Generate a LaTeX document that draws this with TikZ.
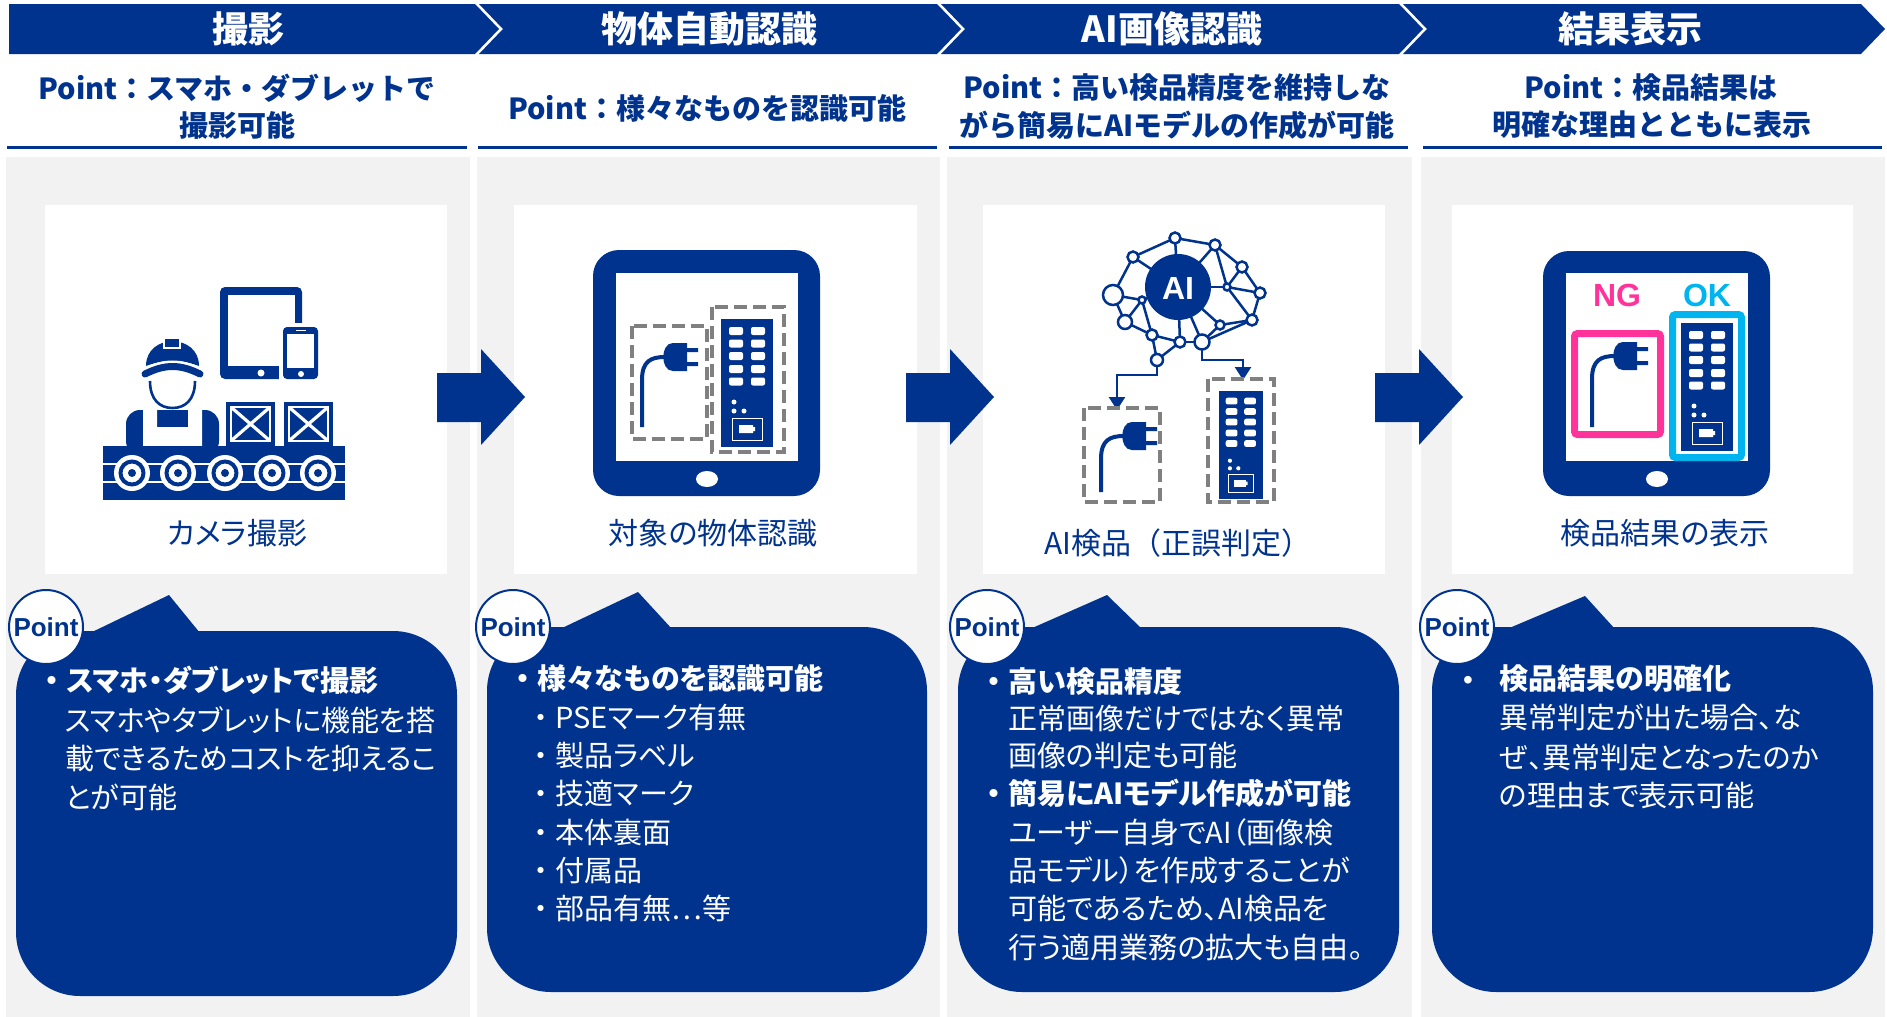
\documentclass[tikz,border=0pt]{standalone}
\usepackage{fontspec}
\setmainfont{Liberation Sans}
\newfontfamily\jp{Noto Sans CJK JP}
\newfontfamily\jpp{Noto Sans CJK JP}[RawFeature=+palt]
\usetikzlibrary{arrows.meta}
\definecolor{navy}{RGB}{0,51,141}
\definecolor{panel}{RGB}{242,242,242}
\definecolor{dashgrey}{RGB}{128,128,128}
\definecolor{ngpink}{RGB}{255,51,153}
\definecolor{okcyan}{RGB}{0,180,240}
\tikzset{
  headtxt/.style={text=white, font=\jp\bfseries\fontsize{18pt}{20pt}\selectfont, inner sep=0pt},
  pointtxt/.style={text=navy, font=\jp\bfseries\fontsize{14.5pt}{17pt}\selectfont, inner sep=0pt},
  hrule/.style={draw=navy, line width=1.5pt},
  lbl/.style={text=navy, font=\jpp\fontsize{15pt}{18pt}\selectfont, inner sep=0pt},
  badge/.style={circle, draw=navy, line width=1pt, fill=white, minimum size=37pt, inner sep=0pt,
    font=\bfseries\fontsize{13pt}{15pt}\selectfont, text=navy},
  btxt/.style={text=white, font=\jpp\fontsize{14.5pt}{17pt}\selectfont, inner sep=0pt, anchor=base west},
  bhead/.style={btxt, font=\jpp\bfseries\fontsize{14.5pt}{17pt}\selectfont},
  dashbox/.style={draw=dashgrey, line width=2pt, dash pattern=on 6.5pt off 3pt},
  netedge/.style={draw=navy, line width=1.25pt},
  netnode/.style={draw=navy, line width=1.25pt, fill=white},
  feed/.style={draw=navy, line width=1.25pt, -{Triangle[width=8pt,length=6.5pt]}},
}
% full-width bullet in front of a bubble line
\newcommand{\bul}{{\jp ・}}
% switching-hub device drawn in a local frame 52 x 128
\newcommand{\devicepic}[3]{%
  \begin{scope}[shift={(#1,#2)}, scale=#3]
    \fill[navy] (0,0) rectangle (52,128);
    \foreach \ky in {12,24.5,37,50,62.5} {
      \fill[white, rounded corners=1pt] (8,\ky-4) rectangle (22,\ky+4);
      \fill[white, rounded corners=1pt] (30,\ky-4) rectangle (44,\ky+4);
    }
    \fill[white] (13,83) circle (2.5) (13,92) circle (2.5) (23,92) circle (2.5);
    \draw[white, line width=0.5pt] (11,99) rectangle (41,121);
    \fill[white] (18,106) rectangle (32,114) (32,108) rectangle (34,112);
  \end{scope}}
% power plug: #1,#2 = left centre of the plug head, #3 = lower end of the cord
\newcommand{\plugicon}[3]{%
  \draw[navy, line width=2pt] (#1-21,#3) -- (#1-21,#2+23) .. controls (#1-21,#2+4) and (#1-12,#2) .. (#1+2,#2);
  \fill[navy] (#1+24,#2-14) -- (#1+10,#2-14) .. controls (#1-3,#2-14) and (#1-3,#2+14) .. (#1+10,#2+14) -- (#1+24,#2+14) -- cycle;
  \fill[navy] (#1+24,#2-9) rectangle (#1+35,#2-5) (#1+24,#2+5) rectangle (#1+35,#2+9);}
\begin{document}
\begin{tikzpicture}[x=0.5pt,y=-0.5pt]
\useasboundingbox (0,0) rectangle (1887,1017);
\fill[white] (0,0) rectangle (1887,1017);
% ---------- step banner ----------
\fill[navy] (9,4) -- (475,4) -- (499,29) -- (475,54) -- (9,54) -- cycle;
\fill[navy] (479,4) -- (937,4) -- (961,29) -- (937,54) -- (479,54) -- (503,29) -- cycle;
\fill[navy] (941,4) -- (1399,4) -- (1423,29) -- (1399,54) -- (941,54) -- (965,29) -- cycle;
\fill[navy] (1403,4) -- (1861,4) -- (1885,29) -- (1861,54) -- (1403,54) -- (1427,29) -- cycle;
\node[headtxt] (h1) at (248,29) {撮影};
\node[headtxt] (h2) at (709,29) {物体自動認識};
\node[headtxt] (h3) at (1172,29) {AI画像認識};
\node[headtxt] (h4) at (1630,29) {結果表示};
% ---------- key points ----------
\node[pointtxt] (q1a) at (237,88) {Point：スマホ・ダブレットで};
\node[pointtxt] (q1b) at (237,125) {撮影可能};
\node[pointtxt] (q2) at (707,108) {Point：様々なものを認識可能};
\node[pointtxt] (q3a) at (1177,88) {Point：高い検品精度を維持しな};
\node[pointtxt] (q3b) at (1177,125) {がら簡易にAIモデルの作成が可能};
\node[pointtxt] (q4a) at (1651,88) {Point：検品結果は};
\node[pointtxt] (q4b) at (1652,125) {明確な理由とともに表示};
\draw[hrule] (7,147) -- (467,147);
\draw[hrule] (478,147) -- (937,147);
\draw[hrule] (949,147) -- (1408,147);
\draw[hrule] (1423,147) -- (1882,147);
% ---------- columns and cards ----------
\fill[panel] (6,157) rectangle (470,1017);
\fill[panel] (477,157) rectangle (940,1017);
\fill[panel] (947,157) rectangle (1412,1017);
\fill[panel] (1421,157) rectangle (1885,1017);
\fill[white] (45,205) rectangle (447,574);
\fill[white] (514,205) rectangle (917,574);
\fill[white] (983,205) rectangle (1385,574);
\fill[white] (1452,205) rectangle (1853,574);
\node[lbl] (l1) at (237,533) {カメラ撮影};
\node[lbl] (l2) at (713,533) {対象の物体認識};
\node[lbl, font=\jp\fontsize{15pt}{18pt}\selectfont] (l3) at (1178,543) {AI検品（正誤判定）};
\node[lbl] (l4) at (1665,533) {検品結果の表示};
% ---------- flow arrows ----------
\foreach \dx in {0,469,938}
  \fill[navy] (437+\dx,373) -- (481+\dx,373) -- (481+\dx,349) -- (525+\dx,397) -- (481+\dx,445) -- (481+\dx,422) -- (437+\dx,422) -- cycle;
% ---------- icon 1: worker, devices, conveyor ----------
\fill[navy, rounded corners=2.5pt] (220,287) rectangle (302,379);
\fill[white] (228,295) rectangle (295,366);
\fill[white] (261,373) circle (3.5);
\fill[white, rounded corners=2pt] (279,323) rectangle (322,383);
\fill[navy, rounded corners=2pt] (283,327) rectangle (318,379);
\fill[white] (287,334) rectangle (314,368);
\draw[white, line width=0.8pt] (296,330.5) -- (306,330.5);
\fill[white] (301,374) circle (3);
\fill[navy, rounded corners=7pt] (126,455) -- (126,410) -- (219,410) -- (219,455) -- cycle;
\fill[white] (143,410) -- (157,410) -- (157,427) -- (188,427) -- (188,410) -- (202,410) -- (202,447) -- (143,447) -- cycle;
\fill[navy] (146,366) .. controls (146,333) and (199,333) .. (199,366) .. controls (180,359) and (165,359) .. (146,366) -- cycle;
\fill[navy, draw=white, line width=0.75pt] (164,338) rectangle (180,348);
\draw[white, line width=6pt, line cap=round] (145,374) .. controls (165,364) and (180,364) .. (200,374);
\draw[navy, line width=3.5pt, line cap=round] (145,374) .. controls (165,364) and (180,364) .. (200,374);
\draw[navy, line width=1.3pt] (150,381) .. controls (150,400) and (160,408) .. (172.5,408) .. controls (185,408) and (195,400) .. (195,381);
\foreach \bx in {226,284} {
  \fill[navy] (\bx,402) rectangle (\bx+49,446);
  \draw[white, line width=0.9pt] (\bx+5,407) rectangle (\bx+44,441);
  \draw[white, line width=1.6pt] (\bx+6,408) -- (\bx+43,440) (\bx+43,408) -- (\bx+6,440);
}
\fill[navy] (103,446) rectangle (345,500);
\draw[white, line width=1.2pt] (103,464) -- (345,464) (103,482) -- (345,482);
\foreach \wx in {132,178,225,272,318} {
  \fill[white] (\wx,473) circle (18);
  \draw[navy, line width=2pt] (\wx,473) circle (11.5);
  \fill[navy] (\wx,473) circle (4);
}
% ---------- icon 2: tablet recognising objects ----------
\fill[navy, rounded corners=13pt] (593,250) rectangle (820,496);
\fill[white] (616,273) rectangle (798,461);
\fill[white] (707,479) ellipse (11 and 8);
\draw[dashbox] (632,326) rectangle (707,439);
\draw[dashbox] (712,307) rectangle (784,452);
\plugicon{663}{357}{427}
\devicepic{721}{319}{1}
% ---------- icon 3: AI network ----------
\coordinate (na) at (1175,238);
\coordinate (nb) at (1215,245);
\coordinate (nc) at (1242,267);
\coordinate (nd) at (1260,293);
\coordinate (ne) at (1252,320);
\coordinate (nf) at (1227,287);
\coordinate (ng) at (1220,325);
\coordinate (nh) at (1202,342);
\coordinate (ni) at (1180,342);
\coordinate (nj) at (1152,335);
\coordinate (nk) at (1157,360);
\coordinate (nl) at (1125,322);
\coordinate (nm) at (1113,295);
\coordinate (nn) at (1133,257);
\coordinate (no) at (1142,300);
\coordinate (core) at (1178,287);
\coordinate (plugtop) at (1117,410);
\coordinate (hubtop) at (1243,380);
\foreach \u/\v in {na/nb, nb/nc, na/nn, na/core, nn/nm, nn/core, nm/nl, nm/no, nl/no, nl/nj, no/nj, no/core,
                   nj/nk, nk/ni, ni/core, ni/nh, nh/core, nh/ng, ng/ne, ng/core, ne/nd, nd/nc, nc/nf, nf/nd,
                   nf/ne, nb/nf, nf/core, nb/core, nj/ni, ne/nh}
  \draw[netedge] (\u) -- (\v);
\draw[feed] (nk) -- (1157,375) -| (plugtop);
\draw[feed] (nh) -- (1202,360) -| (hubtop);
\fill[navy] (core) circle (33);
\node[text=white, font=\bfseries\fontsize{16pt}{18pt}\selectfont, inner sep=0pt] (ai) at (1178,288) {AI};
\foreach \n/\r in {na/5.5, nb/5.5, nc/5.5, nd/5.5, ne/5.5, nf/3.5, ng/4.5, nh/7.5, ni/5.5, nj/5.5, nk/6, nl/7, nm/10, nn/5.5, no/3.5}
  \draw[netnode] (\n) circle (\r);
\draw[dashbox] (1084,408) rectangle (1160,502);
\draw[dashbox] (1208,379) rectangle (1274,502);
\plugicon{1122}{436}{492}
\devicepic{1219}{391}{0.84}
% ---------- icon 4: result display ----------
\fill[navy, rounded corners=13pt] (1543,251) rectangle (1770,496);
\fill[white] (1566,273) rectangle (1748,461);
\fill[white] (1657,479) ellipse (11 and 8);
\node[text=ngpink, font=\bfseries\fontsize{16pt}{18pt}\selectfont, inner sep=0pt] (ngtxt) at (1617,295) {NG};
\node[text=okcyan, font=\bfseries\fontsize{16pt}{18pt}\selectfont, inner sep=0pt] (oktxt) at (1707,295) {OK};
\draw[ngpink, line width=3.5pt, rounded corners=1.5pt] (1574.5,333.5) rectangle (1660.5,434.5);
\draw[okcyan, line width=3.5pt, rounded corners=1.5pt] (1672.5,314.5) rectangle (1741.5,457.5);
\plugicon{1613}{356}{427}
\devicepic{1681}{323}{1}
% ---------- speech bubbles ----------
\fill[navy, rounded corners=32pt] (16,631) rectangle (457,996);
\fill[navy] (90,633) -- (169,595) -- (200,633) -- cycle;
\node[badge] (p1) at (46,627) {Point};
\node[bhead] (t1a) at (37,691) {\bul スマホ・ダブレットで撮影};
\node[btxt] (t1b) at (65,731) {スマホやタブレットに機能を搭};
\node[btxt] (t1c) at (65,769) {載できるためコストを抑えるこ};
\node[btxt] (t1d) at (65,808) {とが可能};
%
\fill[navy, rounded corners=32pt] (487,627) rectangle (927,992);
\fill[navy] (560,629) -- (638,592) -- (672,629) -- cycle;
\node[badge] (p2) at (513,627) {Point};
\node[bhead] (t2a) at (508,689) {\bul 様々なものを認識可能};
\foreach \yy/\tt [count=\i] in {728/PSEマーク有無, 766/製品ラベル, 804/技適マーク, 843/本体裏面, 881/付属品, 919/部品有無…等}
  \node[btxt] (u\i) at (526,\yy) {\bul\tt};
%
\fill[navy, rounded corners=32pt] (958,627) rectangle (1399,992);
\fill[navy] (1030,629) -- (1107,595) -- (1142,629) -- cycle;
\node[badge] (p3) at (987,627) {Point};
\node[bhead] (t3a) at (979,692) {\bul 高い検品精度};
\node[btxt] (t3b) at (1008,729) {正常画像だけではなく異常};
\node[btxt] (t3c) at (1008,766) {画像の判定も可能};
\node[bhead] (t3d) at (979,804) {\bul 簡易にAIモデル作成が可能};
\node[btxt] (t3e) at (1008,843) {ユーザー自身でAI（画像検};
\node[btxt] (t3f) at (1008,881) {品モデル）を作成することが};
\node[btxt] (t3g) at (1008,919) {可能であるため、AI検品を};
\node[btxt] (t3h) at (1008,958) {行う適用業務の拡大も自由。};
%
\fill[navy, rounded corners=32pt] (1432,627) rectangle (1873,992);
\fill[navy] (1507,629) -- (1585,596) -- (1615,629) -- cycle;
\node[badge] (p4) at (1457,627) {Point};
\node[text=white, font=\fontsize{14pt}{17pt}\selectfont, inner sep=0pt, anchor=base] (d4) at (1468,689) {•};
\node[bhead] (t4a) at (1499,689) {検品結果の明確化};
\node[btxt] (t4b) at (1499,728) {異常判定が出た場合、な};
\node[btxt] (t4c) at (1499,768) {ぜ、異常判定となったのか};
\node[btxt] (t4d) at (1499,806) {の理由まで表示可能};
\end{tikzpicture}
\end{document}
